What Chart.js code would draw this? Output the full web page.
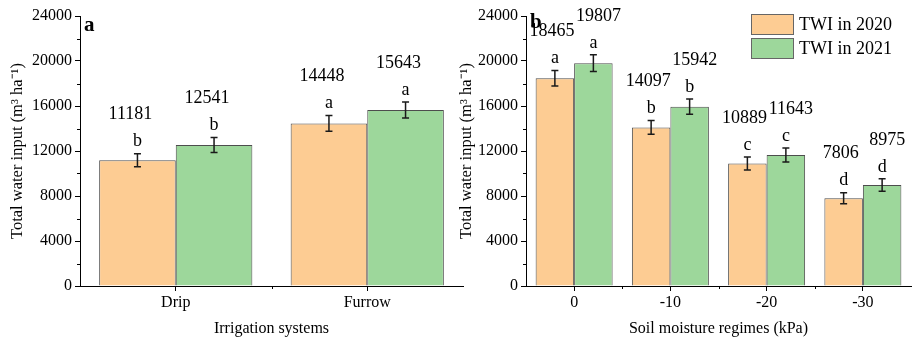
<!DOCTYPE html>
<html>
<head>
<meta charset="utf-8">
<script src="https://cdn.jsdelivr.net/npm/chart.js@4.4.0/dist/chart.umd.min.js"></script>
<style>
  html, body { margin: 0; padding: 0; background: #fff; }
  #wrap { position: relative; width: 915px; height: 339px; overflow: hidden; }
  canvas { position: absolute; top: 0; }
</style>
</head>
<body>
<div id="wrap">
  <canvas id="chartA" width="470" height="339" style="left:0;width:470px;height:339px"></canvas>
  <canvas id="chartB" width="460" height="339" style="left:455px;width:460px;height:339px"></canvas>
</div>
<script>
// panel a
const categoriesA = ['Drip', 'Furrow'];
const twi2020A = [11181, 14448];
const twi2021A = [12541, 15643];
const err2020A = [580, 700];
const err2021A = [670, 710];
const letters2020A = ['b', 'a'];
const letters2021A = ['b', 'a'];

// panel b
const categoriesB = ['0', '-10', '-20', '-30'];
const twi2020B = [18465, 14097, 10889, 7806];
const twi2021B = [19807, 15942, 11643, 8975];
const err2020B = [680, 610, 570, 490];
const err2021B = [740, 670, 620, 550];
const letters2020B = ['a', 'b', 'c', 'd'];
const letters2021B = ['a', 'b', 'c', 'd'];

const yMin = 0, yMax = 24000, yStep = 4000;
const seriesNames = ['TWI in 2020', 'TWI in 2021'];

const SERIF = "'Liberation Serif', 'Times New Roman', serif";
const ORANGE = '#fdcc93';
const GREEN = '#9dd79b';
const EDGE = '#4d4d4d';

// error bars, significance letters, value labels, minor ticks
const annotatePlugin = {
    id: 'annotate',
    afterDatasetsDraw(chart, args, opts) {
        const ctx = chart.ctx;
        const y = chart.scales.y;
        const x = chart.scales.x;
        ctx.save();

        // minor ticks on y
        ctx.strokeStyle = '#000';
        ctx.lineWidth = 1;
        for (let v = yMin + yStep / 2; v < yMax; v += yStep) {
            const py = Math.round(y.getPixelForValue(v)) + 0.5;
            ctx.beginPath();
            ctx.moveTo(x.left - 3, py);
            ctx.lineTo(x.left, py);
            ctx.stroke();
        }
        // minor ticks between categories on x
        const n = chart.data.labels.length;
        for (let i = 1; i < n; i++) {
            const px = Math.round(x.getPixelForValue(i - 0.5)) + 0.5;
            ctx.beginPath();
            ctx.moveTo(px, x.top);
            ctx.lineTo(px, x.top + 3);
            ctx.stroke();
        }

        chart.data.datasets.forEach((ds, di) => {
            const meta = chart.getDatasetMeta(di);
            meta.data.forEach((bar, i) => {
                const v = ds.data[i];
                const e = ds.errors[i];
                const top = y.getPixelForValue(v + e);
                const bot = y.getPixelForValue(v - e);
                const bx = bar.x;
                ctx.strokeStyle = '#1a1a1a';
                ctx.lineWidth = 1.5;
                ctx.beginPath();
                ctx.moveTo(bx, top); ctx.lineTo(bx, bot);
                ctx.moveTo(bx - 3.5, top); ctx.lineTo(bx + 3.5, top);
                ctx.moveTo(bx - 3.5, bot); ctx.lineTo(bx + 3.5, bot);
                ctx.stroke();

                ctx.fillStyle = '#000';
                ctx.textAlign = 'center';
                ctx.textBaseline = 'middle';
                ctx.font = '18px ' + SERIF;
                const ly = top - 12;
                ctx.fillText(ds.letters[i], bx, ly);
                ctx.fillText(String(v), bx + opts.numShift[di], ly - 27);
            });
        });

        // panel letter
        ctx.font = 'bold 21px ' + SERIF;
        ctx.textAlign = 'left';
        ctx.textBaseline = 'middle';
        ctx.fillStyle = '#000';
        ctx.fillText(opts.panel, x.left + 4, opts.panelY);

        // legend
        if (opts.legend) {
            const lx = x.right - 160, ly0 = 14;
            chart.data.datasets.forEach((ds, di) => {
                const by = ly0 + di * 24;
                ctx.fillStyle = ds.backgroundColor;
                ctx.fillRect(lx, by, 42, 20);
                ctx.strokeStyle = '#666';
                ctx.lineWidth = 1;
                ctx.strokeRect(lx + 0.5, by + 0.5, 42, 20);
                ctx.fillStyle = '#000';
                ctx.font = '18px ' + SERIF;
                ctx.fillText(ds.label, lx + 48, by + 11);
            });
        }
        ctx.restore();
    }
};

function makeChart(id, labels, d2020, d2021, e2020, e2021, l2020, l2021, opt) {
    const ctx = document.getElementById(id).getContext('2d');
    return new Chart(ctx, {
        type: 'bar',
        data: {
            labels: labels,
            datasets: [{
                label: seriesNames[0],
                data: d2020,
                errors: e2020,
                letters: l2020,
                backgroundColor: ORANGE,
                borderColor: EDGE,
                borderWidth: 1,
                categoryPercentage: 0.8,
                barPercentage: 1.0
            }, {
                label: seriesNames[1],
                data: d2021,
                errors: e2021,
                letters: l2021,
                backgroundColor: GREEN,
                borderColor: EDGE,
                borderWidth: 1,
                categoryPercentage: 0.8,
                barPercentage: 1.0
            }]
        },
        options: {
            responsive: false,
            animation: false,
            layout: { padding: { left: 0, right: opt.padRight, top: 16, bottom: 0 } },
            plugins: {
                legend: { display: false },
                tooltip: { enabled: false },
                annotate: { panel: opt.panel, panelY: opt.panelY, legend: opt.legend, numShift: opt.numShift }
            },
            scales: {
                x: {
                    offset: true,
                    grid: { offset: false, drawOnChartArea: false, tickLength: 5, color: '#000' },
                    border: { display: true, color: '#000', width: 1 },
                    ticks: { color: '#000', font: { family: SERIF, size: 16 }, padding: 2 },
                    title: {
                        display: true,
                        text: opt.xTitle,
                        color: '#000',
                        font: { family: SERIF, size: 16 },
                        padding: { top: 0, bottom: 1 }
                    },
                    afterFit(scale) { scale.height = 53; }
                },
                y: {
                    min: yMin,
                    max: yMax,
                    grid: { drawOnChartArea: false, tickLength: 5, color: '#000' },
                    border: { display: true, color: '#000', width: 1 },
                    ticks: {
                        stepSize: yStep,
                        color: '#000',
                        font: { family: SERIF, size: 16 },
                        padding: 3,
                        callback: (v) => String(v)
                    },
                    title: {
                        display: true,
                        text: 'Total water input (m³ ha⁻¹)',
                        color: '#000',
                        font: { family: SERIF, size: 16.5 },
                        padding: { top: opt.yTitlePad, bottom: 0 }
                    },
                    afterFit(scale) { scale.width = opt.yWidth; }
                }
            }
        },
        plugins: [annotatePlugin]
    });
}

makeChart('chartA', categoriesA, twi2020A, twi2021A, err2020A, err2021A, letters2020A, letters2021A,
    { padRight: 7, yWidth: 80, yTitlePad: 8, xTitle: 'Irrigation systems', panel: 'a', panelY: 26, legend: false, numShift: [-7, -7] });
makeChart('chartB', categoriesB, twi2020B, twi2021B, err2020B, err2021B, letters2020B, letters2021B,
    { padRight: 4, yWidth: 71, yTitlePad: 2, xTitle: 'Soil moisture regimes (kPa)', panel: 'b', panelY: 23, legend: true, numShift: [-3, 5] });
</script>
</body>
</html>
